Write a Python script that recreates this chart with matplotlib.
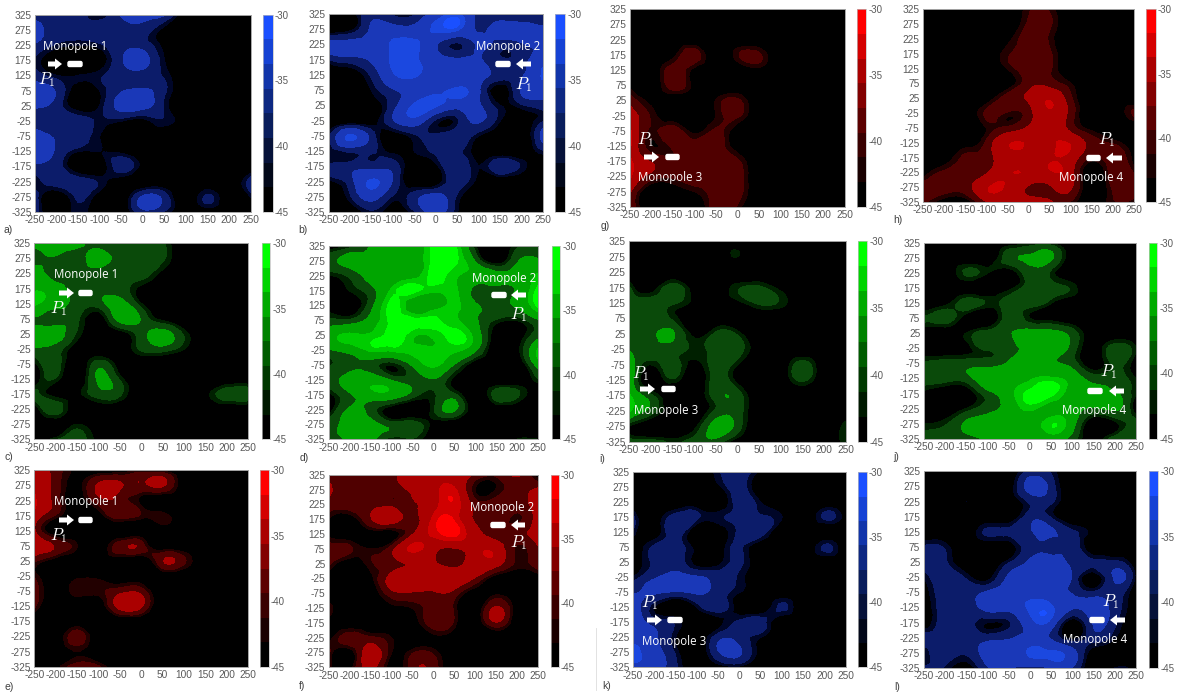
import numpy as np
import matplotlib
matplotlib.use('Agg')
import matplotlib.pyplot as plt
from matplotlib.patches import FancyBboxPatch, FancyArrow
from matplotlib.tri import Triangulation, UniformTriRefiner

plt.rcParams['font.family'] = ['Liberation Sans', 'DejaVu Sans']
plt.rcParams['mathtext.fontset'] = 'cm'
plt.rcParams['axes.unicode_minus'] = False

W, H = 1177, 694
X_TICKS = [-250, -200, -150, -100, -50, 0, 50, 100, 150, 200, 250]
Y_TICKS = [325, 275, 225, 175, 125, 75, 25, -25, -75, -125, -175, -225, -275, -325]
CBAR_TICKS = [-30, -35, -40, -45]

# Field values (dB), rows from y=325 down to y=-325, columns x=-250..250
A = [
 [-39,-39,-39,-42,-37,-36,-37,-45,-45,-45,-45],
 [-36,-39,-39,-39,-39,-39,-43,-45,-45,-45,-45],
 [-38,-41,-42,-41,-39,-39,-43,-45,-45,-45,-45],
 [-41,-45,-45,-44,-38,-36,-42,-45,-45,-45,-45],
 [-39,-42,-42,-41,-39,-39,-41,-45,-45,-45,-45],
 [-36,-38,-44,-42,-38,-37,-40,-45,-45,-45,-45],
 [-37,-39,-44,-42,-36,-36,-41,-45,-45,-45,-45],
 [-39,-39,-39,-41,-42,-43,-41,-44,-45,-45,-45],
 [-36,-38,-39,-42,-45,-45,-45,-45,-45,-45,-45],
 [-36,-38,-42,-42,-43,-45,-45,-45,-45,-45,-45],
 [-38,-39,-45,-44,-39,-43,-45,-45,-45,-45,-45],
 [-42,-39,-39,-41,-44,-45,-45,-45,-45,-44,-39],
 [-39,-45,-40,-44,-45,-37,-39,-45,-40,-45,-42],
 [-39,-45,-41,-45,-45,-39,-41,-45,-45,-45,-45],
]
B = [
 [-45,-44,-38,-41,-41,-36,-33,-39,-41,-41,-41],
 [-45,-43,-37,-36,-36,-33,-33,-38,-36,-36,-37],
 [-36,-36,-36,-33,-33,-37,-41,-37,-39,-38,-37],
 [-41,-39,-37,-33,-33,-36,-37,-37,-40,-39,-35],
 [-44,-44,-40,-34,-33,-36,-36,-36,-39,-38,-33],
 [-45,-45,-42,-38,-36,-35,-33,-37,-44,-37,-36],
 [-45,-45,-44,-39,-33,-33,-36,-37,-42,-41,-39],
 [-45,-45,-44,-38,-35,-41,-41,-37,-42,-44,-41],
 [-41,-33,-39,-44,-41,-40,-39,-42,-45,-45,-36],
 [-42,-40,-40,-43,-42,-40,-40,-44,-45,-45,-41],
 [-40,-39,-39,-39,-45,-43,-38,-42,-38,-41,-44],
 [-43,-39,-33,-38,-45,-44,-39,-43,-45,-45,-45],
 [-45,-41,-36,-41,-39,-36,-41,-45,-45,-45,-45],
 [-45,-45,-41,-44,-41,-36,-42,-45,-44,-43,-43],
]
C = [
 [-36,-35,-36,-40,-40,-39,-40,-45,-45,-45,-45],
 [-39,-38,-39,-36,-39,-39,-40,-45,-45,-45,-45],
 [-35,-39,-39,-39,-39,-39,-43,-45,-45,-45,-45],
 [-34,-36,-39,-39,-39,-43,-45,-45,-45,-45,-45],
 [-33,-36,-39,-39,-36,-42,-45,-45,-45,-45,-45],
 [-38,-39,-40,-44,-36,-38,-43,-45,-45,-45,-45],
 [-36,-36,-41,-45,-44,-39,-36,-41,-45,-45,-45],
 [-38,-39,-44,-45,-45,-40,-39,-42,-45,-45,-45],
 [-43,-39,-45,-39,-44,-45,-45,-45,-45,-45,-45],
 [-45,-41,-45,-37,-41,-45,-45,-45,-45,-45,-45],
 [-39,-43,-43,-39,-40,-45,-45,-45,-43,-39,-39],
 [-45,-39,-45,-45,-45,-45,-45,-45,-45,-45,-45],
 [-45,-45,-42,-45,-45,-45,-45,-45,-45,-45,-45],
 [-45,-41,-39,-43,-45,-45,-45,-45,-45,-45,-45],
]
D = [
 [-44,-42,-37,-36,-36,-31,-31,-42,-45,-41,-41],
 [-39,-36,-36,-36,-36,-31,-31,-38,-44,-38,-37],
 [-42,-40,-36,-36,-35,-31,-33,-35,-36,-36,-33],
 [-45,-42,-39,-33,-31,-33,-33,-39,-39,-37,-31],
 [-43,-44,-39,-31,-36,-35,-33,-37,-38,-37,-31],
 [-40,-40,-36,-31,-31,-31,-33,-37,-41,-42,-38],
 [-35,-33,-33,-31,-33,-33,-31,-35,-44,-44,-39],
 [-38,-36,-33,-33,-33,-33,-33,-37,-45,-43,-33],
 [-41,-39,-39,-42,-37,-33,-38,-44,-45,-45,-36],
 [-39,-36,-35,-38,-39,-38,-43,-45,-45,-45,-41],
 [-43,-38,-35,-35,-39,-41,-40,-45,-39,-40,-45],
 [-44,-37,-39,-44,-45,-41,-37,-45,-45,-45,-45],
 [-39,-36,-36,-39,-39,-43,-45,-45,-45,-45,-45],
 [-39,-37,-36,-42,-41,-44,-45,-45,-45,-42,-42],
]
E = [
 [-34,-39,-43,-45,-44,-42,-43,-45,-45,-45,-45],
 [-34,-39,-43,-37,-37,-38,-37,-44,-45,-45,-45],
 [-33,-39,-44,-39,-39,-43,-45,-45,-45,-45,-45],
 [-35,-41,-45,-44,-39,-41,-41,-45,-45,-45,-45],
 [-37,-45,-45,-45,-45,-45,-45,-45,-45,-45,-45],
 [-34,-38,-42,-45,-39,-39,-45,-45,-45,-45,-45],
 [-40,-44,-45,-45,-45,-45,-38,-40,-45,-45,-45],
 [-41,-45,-43,-43,-45,-45,-45,-45,-45,-45,-45],
 [-39,-44,-41,-41,-39,-39,-45,-45,-45,-45,-45],
 [-40,-45,-45,-45,-36,-37,-45,-45,-45,-45,-45],
 [-45,-45,-45,-45,-45,-45,-45,-45,-45,-45,-45],
 [-45,-45,-39,-45,-45,-45,-45,-45,-45,-45,-45],
 [-45,-45,-42,-45,-45,-45,-43,-45,-45,-45,-45],
 [-45,-43,-39,-40,-45,-45,-45,-45,-45,-45,-45],
]
F = [
 [-39,-39,-39,-38,-36,-35,-36,-38,-40,-37,-44],
 [-37,-39,-39,-39,-37,-35,-33,-42,-42,-39,-37],
 [-39,-39,-39,-39,-38,-35,-32,-39,-39,-39,-36],
 [-42,-44,-38,-35,-39,-33,-32,-38,-39,-41,-36],
 [-43,-45,-44,-44,-38,-33,-31,-36,-39,-39,-36],
 [-39,-40,-42,-39,-33,-36,-38,-35,-35,-41,-38],
 [-40,-44,-41,-39,-37,-37,-39,-35,-36,-41,-39],
 [-44,-45,-43,-36,-36,-36,-35,-38,-44,-45,-44],
 [-45,-45,-44,-39,-38,-38,-39,-44,-43,-45,-45],
 [-41,-45,-45,-43,-42,-39,-41,-45,-37,-44,-45],
 [-43,-45,-45,-45,-44,-39,-41,-45,-38,-45,-45],
 [-43,-39,-40,-42,-45,-43,-44,-45,-45,-43,-45],
 [-40,-44,-35,-42,-41,-41,-45,-45,-45,-45,-45],
 [-41,-43,-36,-44,-39,-39,-45,-45,-45,-45,-45],
]
G = [
 [-45,-45,-45,-45,-45,-45,-45,-45,-45,-45,-45],
 [-45,-45,-45,-45,-45,-45,-45,-45,-45,-45,-45],
 [-45,-45,-45,-45,-45,-45,-45,-45,-45,-45,-45],
 [-42,-45,-43,-39,-45,-41,-40,-45,-45,-45,-45],
 [-45,-45,-39,-43,-45,-45,-43,-45,-45,-45,-45],
 [-43,-45,-39,-43,-45,-45,-45,-45,-45,-45,-45],
 [-39,-43,-45,-45,-42,-40,-45,-45,-45,-45,-45],
 [-35,-41,-45,-45,-42,-40,-45,-45,-45,-45,-45],
 [-33,-41,-39,-43,-40,-44,-45,-45,-45,-45,-45],
 [-33,-42,-40,-39,-39,-44,-45,-45,-45,-45,-45],
 [-33,-38,-40,-39,-39,-40,-45,-45,-45,-45,-45],
 [-33,-39,-40,-39,-39,-39,-45,-45,-45,-45,-45],
 [-37,-45,-44,-42,-39,-39,-45,-45,-45,-45,-45],
 [-38,-45,-45,-45,-39,-41,-45,-45,-45,-45,-45],
]
H_ = [
 [-45,-45,-45,-45,-45,-41,-41,-45,-45,-45,-45],
 [-45,-45,-45,-45,-45,-40,-40,-45,-45,-45,-45],
 [-45,-45,-45,-45,-43,-39,-41,-45,-45,-45,-45],
 [-45,-45,-45,-44,-41,-39,-40,-45,-45,-45,-45],
 [-45,-45,-45,-45,-42,-39,-40,-45,-45,-45,-45],
 [-45,-45,-45,-45,-44,-39,-39,-42,-45,-45,-45],
 [-45,-45,-45,-44,-39,-37,-34,-40,-45,-45,-45],
 [-45,-45,-45,-40,-41,-39,-34,-39,-45,-44,-40],
 [-45,-45,-45,-42,-40,-37,-34,-39,-43,-45,-45],
 [-45,-45,-44,-40,-34,-34,-34,-34,-39,-41,-44],
 [-45,-44,-40,-39,-35,-34,-34,-35,-41,-39,-43],
 [-44,-40,-40,-38,-34,-34,-34,-36,-45,-39,-41],
 [-39,-39,-39,-34,-34,-38,-38,-37,-45,-40,-39],
 [-40,-44,-44,-38,-35,-35,-37,-41,-44,-41,-42],
]
I = [
 [-45,-45,-45,-45,-45,-45,-45,-45,-45,-45,-45],
 [-45,-45,-45,-45,-45,-42,-45,-45,-45,-45,-45],
 [-45,-45,-45,-45,-45,-45,-45,-45,-45,-45,-45],
 [-40,-44,-39,-44,-45,-41,-40,-43,-45,-45,-45],
 [-39,-39,-40,-43,-45,-43,-40,-41,-45,-45,-45],
 [-39,-39,-41,-45,-45,-45,-45,-45,-45,-45,-45],
 [-39,-39,-37,-43,-40,-41,-45,-45,-45,-45,-45],
 [-38,-38,-39,-41,-39,-39,-44,-45,-45,-45,-45],
 [-34,-42,-39,-43,-39,-42,-45,-45,-39,-45,-45],
 [-34,-45,-41,-45,-39,-43,-45,-45,-40,-45,-42],
 [-33,-40,-45,-45,-39,-39,-45,-45,-45,-45,-45],
 [-33,-39,-44,-45,-40,-39,-45,-45,-45,-45,-45],
 [-42,-45,-45,-43,-36,-39,-45,-45,-45,-45,-41],
 [-39,-39,-41,-39,-39,-44,-45,-45,-45,-45,-41],
]
J = [
 [-45,-45,-45,-45,-44,-42,-42,-45,-45,-45,-45],
 [-45,-45,-45,-45,-39,-37,-37,-44,-45,-45,-45],
 [-43,-44,-40,-42,-44,-39,-41,-45,-45,-45,-45],
 [-45,-45,-44,-45,-43,-39,-39,-41,-45,-45,-45],
 [-45,-43,-39,-41,-39,-39,-42,-45,-45,-45,-45],
 [-40,-39,-44,-45,-39,-42,-43,-45,-45,-45,-45],
 [-45,-45,-42,-39,-38,-36,-36,-39,-45,-45,-45],
 [-45,-45,-43,-40,-39,-36,-35,-39,-44,-39,-42],
 [-40,-39,-39,-39,-37,-35,-37,-39,-44,-40,-44],
 [-39,-39,-39,-35,-35,-34,-33,-35,-39,-39,-42],
 [-43,-45,-44,-39,-35,-31,-31,-35,-36,-37,-42],
 [-45,-45,-42,-39,-36,-33,-35,-36,-38,-37,-44],
 [-42,-41,-37,-35,-34,-35,-32,-36,-45,-43,-39],
 [-39,-39,-39,-37,-36,-36,-36,-39,-44,-39,-39],
]
K = [
 [-45,-45,-45,-45,-41,-39,-43,-45,-45,-45,-45],
 [-45,-45,-45,-45,-43,-39,-45,-45,-45,-45,-45],
 [-45,-45,-45,-45,-45,-39,-42,-45,-45,-45,-45],
 [-40,-44,-39,-40,-41,-40,-40,-42,-45,-40,-43],
 [-41,-44,-39,-45,-45,-40,-39,-45,-45,-45,-45],
 [-45,-40,-39,-43,-44,-40,-45,-45,-45,-40,-45],
 [-44,-40,-39,-43,-43,-40,-45,-45,-45,-45,-45],
 [-42,-38,-36,-37,-39,-41,-45,-45,-45,-45,-45],
 [-38,-37,-38,-37,-39,-42,-45,-45,-45,-45,-45],
 [-35,-42,-45,-42,-39,-44,-45,-40,-45,-45,-45],
 [-34,-39,-41,-44,-43,-40,-39,-45,-45,-45,-45],
 [-35,-37,-42,-45,-39,-39,-42,-45,-45,-45,-45],
 [-32,-36,-41,-45,-38,-37,-43,-45,-45,-45,-45],
 [-35,-36,-40,-45,-44,-43,-45,-45,-45,-45,-45],
]
L = [
 [-45,-45,-45,-45,-45,-40,-41,-45,-45,-45,-45],
 [-45,-45,-45,-45,-44,-36,-39,-45,-45,-45,-45],
 [-42,-44,-42,-45,-45,-40,-40,-45,-45,-45,-45],
 [-45,-45,-45,-45,-45,-39,-41,-45,-45,-45,-45],
 [-45,-45,-45,-40,-40,-38,-37,-40,-43,-45,-45],
 [-40,-41,-45,-45,-44,-39,-39,-39,-45,-45,-45],
 [-39,-40,-45,-45,-41,-37,-35,-39,-40,-40,-45],
 [-42,-39,-41,-43,-37,-36,-35,-38,-44,-37,-43],
 [-44,-39,-39,-37,-35,-35,-36,-38,-40,-39,-45],
 [-45,-39,-39,-36,-36,-33,-33,-37,-36,-39,-44],
 [-45,-39,-39,-42,-41,-35,-35,-44,-37,-40,-45],
 [-39,-39,-39,-39,-38,-36,-38,-43,-39,-42,-45],
 [-42,-39,-40,-36,-36,-33,-33,-36,-44,-45,-45],
 [-40,-41,-44,-38,-37,-39,-37,-38,-45,-42,-43],
]

FIELD_LEVELS = [-45, -42, -40.5, -37.5, -33.5, -31.7, -30]
RAMPS = {
    'blue': ['#000000', '#000628', '#0c1c6a', '#1a38b8', '#1b48e0', '#1a50ff'],
    'green': ['#000000', '#002000', '#0a4a0a', '#00a500', '#00cc00', '#00ff00'],
    'red': ['#000000', '#220000', '#500000', '#aa0000', '#d00000', '#ff0000'],
}
TOPS = {'blue': (0.10, 0.31, 1.0), 'green': (0, 1, 0), 'red': (1, 0, 0)}
CBAR_LEVELS = np.linspace(-45, -30, 9)

# name, grid, hue, axes box, colourbar x-range, letter position, monopole label, label pos,
# rect x-range, arrow x-range, marker y, P1 pos
PANELS = [
 ('a)', A, 'blue', (35, 14.7, 250.7, 212), (263, 272.7), (8, 230), 'Monopole 1', (75, 46), (67, 83), (48, 62), 64, (47, 80)),
 ('b)', B, 'blue', (328.7, 14, 543, 212), (555.3, 565), (303, 230), 'Monopole 2', (508, 46), (495, 511), (531, 516), 64, (524, 85)),
 ('g)', G, 'red', (630, 9.3, 844.7, 206.7), (857.3, 866), (605, 226), 'Monopole 3', (670, 177), (665, 680), (644, 659), 157, (646, 140)),
 ('h)', H_, 'red', (923, 9.3, 1134, 202), (1146, 1155.7), (898, 220), 'Monopole 4', (1091, 177), (1086, 1101), (1122, 1106), 158, (1107, 140)),
 ('c)', C, 'green', (34.3, 243.3, 248.3, 439.3), (262.3, 270.3), (9, 457), 'Monopole 1', (86, 274), (78, 93), (59, 74), 293, (59, 309)),
 ('d)', D, 'green', (328.7, 246, 538.3, 439.3), (551.7, 560), (304, 458), 'Monopole 2', (504, 278), (491, 507), (526, 511), 295, (519, 315)),
 ('i)', I, 'green', (629, 241.3, 845.7, 441.7), (858, 867), (602, 459), 'Monopole 3', (666, 410), (661, 676), (640, 655), 389, (641, 374)),
 ('j)', J, 'green', (923.7, 243, 1135.7, 438.7), (1148.7, 1157.3), (896, 457), 'Monopole 4', (1094, 410), (1087, 1103), (1124, 1109), 391, (1109, 372)),
 ('e)', E, 'red', (34.3, 470.3, 248, 666.7), (260, 268.7), (9, 687), 'Monopole 1', (86, 501), (78, 93), (59, 74), 520, (59, 536)),
 ('f)', F, 'red', (328.7, 474.7, 537.7, 667.3), (550.7, 558.7), (302, 686), 'Monopole 2', (502, 507), (490, 506), (525, 511), 525, (519, 543)),
 ('k)', K, 'blue', (633, 472.3, 845.7, 667.3), (858, 866.7), (607, 686), 'Monopole 3', (674, 641), (667, 683), (647, 662), 620, (650, 603)),
 ('l)', L, 'blue', (923.7, 471.3, 1136.3, 668), (1149.3, 1158), (897, 687), 'Monopole 4', (1095, 639), (1089, 1105), (1125, 1110), 620, (1111, 602)),
]

TICK = '#595959'
fig = plt.figure(figsize=(W / 100, H / 100), dpi=100)


def box(x0, y0, x1, y1):
    return [x0 / W, 1 - y1 / H, (x1 - x0) / W, (y1 - y0) / H]


xg, yg = np.meshgrid(X_TICKS, Y_TICKS)
tri = Triangulation(xg.ravel().astype(float), yg.ravel().astype(float))
refiner = UniformTriRefiner(tri)

for name, grid, hue, ab, cx, lp, label, tp, rx, arx, my, pp in PANELS:
    ax = fig.add_axes(box(*ab))
    z = np.array(grid, float)
    assert z.shape == (14, 11), name
    t2, z2 = refiner.refine_field(z.ravel(), subdiv=3)
    z2 = np.clip(z2, -44.99, -30.01)
    ax.set_facecolor('black')
    cs = ax.tricontourf(t2, z2, levels=FIELD_LEVELS, colors=RAMPS[hue])
    cs.set_edgecolor('face')
    cs.set_linewidth(0.3)
    ax.set_xlim(-250, 250)
    ax.set_ylim(-325, 325)
    ax.set_xticks(X_TICKS)
    ax.set_yticks(Y_TICKS)
    ax.tick_params(length=0, labelsize=7.3, labelcolor=TICK, pad=2.5)
    for s in ax.spines.values():
        s.set_color('#a6a6a6')
        s.set_linewidth(0.7)

    cax = fig.add_axes(box(cx[0], ab[1], cx[1], ab[3]))
    top = np.array(TOPS[hue])
    cols = [tuple(top * k ** 1.2) for k in np.linspace(0, 1, 8)]
    for i in range(8):
        cax.axhspan(CBAR_LEVELS[i], CBAR_LEVELS[i + 1], color=cols[i], lw=0)
    cax.set_ylim(-45, -30)
    cax.set_xticks([])
    cax.yaxis.tick_right()
    cax.set_yticks(CBAR_TICKS)
    cax.tick_params(length=0, labelsize=7, labelcolor=TICK, pad=1.5)
    for s in cax.spines.values():
        s.set_color('#bfbfbf')
        s.set_linewidth(0.5)

ov = fig.add_axes([0, 0, 1, 1])
ov.set_xlim(0, W)
ov.set_ylim(H, 0)
ov.axis('off')
ov.patch.set_alpha(0)
for name, grid, hue, ab, cx, lp, label, tp, rx, arx, my, pp in PANELS:
    ov.text(lp[0], lp[1], name, fontsize=7.5, color='#404040', ha='center', va='center')
    ov.text(tp[0], tp[1], label, fontsize=8.3, color='white', ha='center', va='center',
            family=['Open Sans', 'DejaVu Sans'])
    ov.add_patch(FancyBboxPatch((rx[0] + 1, my - 2.5), rx[1] - rx[0] - 2, 5,
                                boxstyle='round,pad=0,rounding_size=1.5', fc='white', ec='white', lw=1))
    ov.add_patch(FancyArrow(arx[0], my, arx[1] - arx[0], 0, width=5, head_width=11,
                            head_length=7, length_includes_head=True, fc='white', ec='none'))
    ov.text(pp[0], pp[1], r'$P_1$', fontsize=12, color='white', ha='center', va='center')
ov.plot([596, 596], [628, 690], color='#dddddd', lw=0.6)

fig.savefig('out.png', dpi=100)
